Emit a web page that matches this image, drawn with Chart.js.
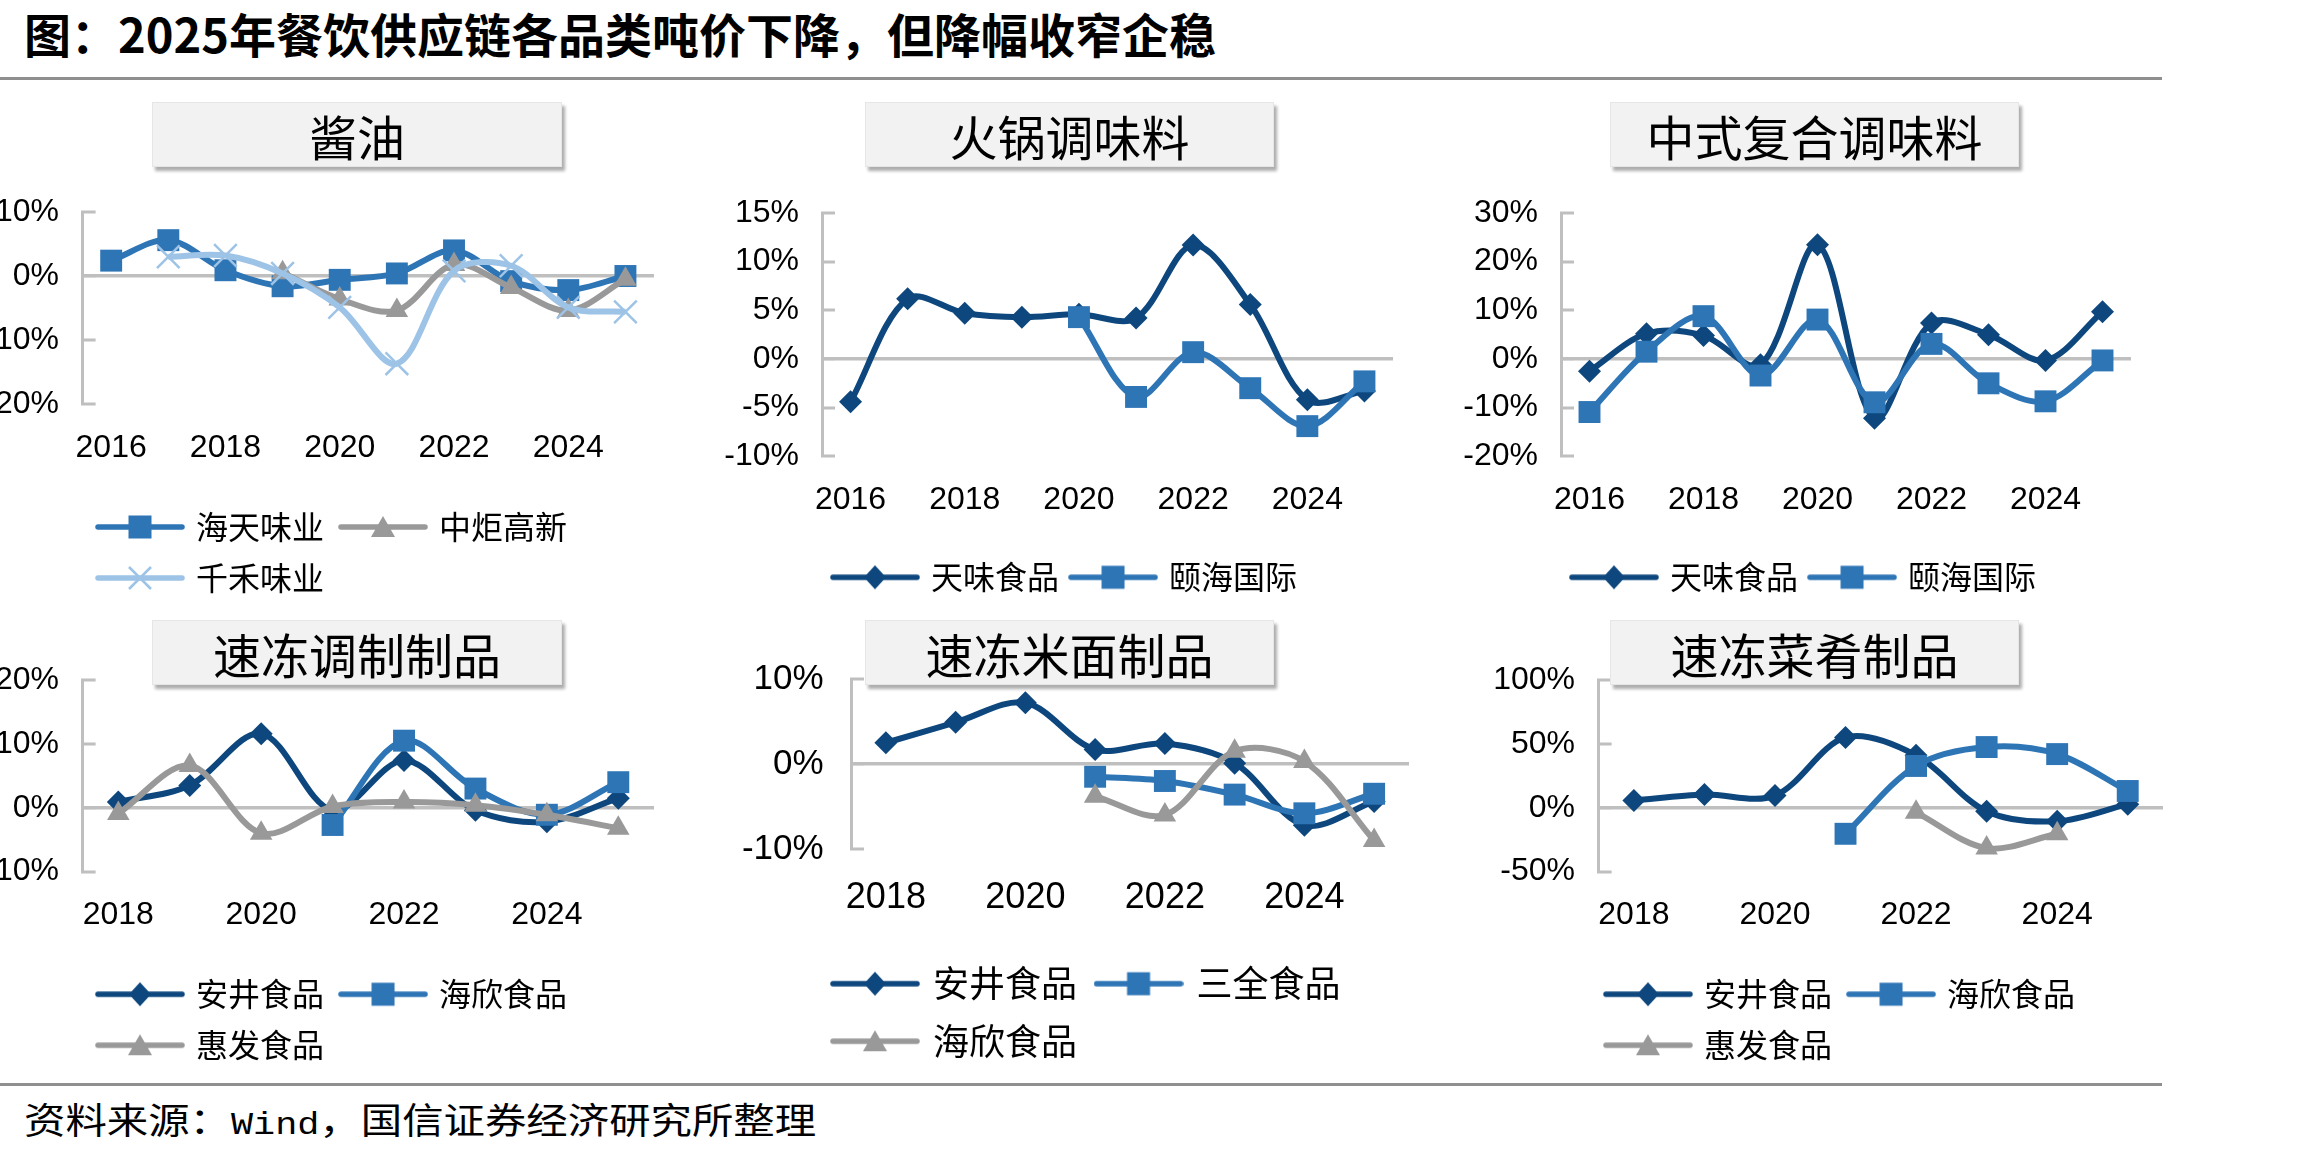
<!DOCTYPE html>
<html><head><meta charset="utf-8">
<script src="https://cdn.jsdelivr.net/npm/chart.js@4.4.1/dist/chart.umd.min.js"></script>
<style>
html,body{margin:0;padding:0;background:#fff;}
body{width:2322px;height:1160px;position:relative;overflow:hidden;font-family:"Noto Sans CJK SC",sans-serif;color:#000;}
.abs{position:absolute;white-space:nowrap;}
canvas{position:absolute;}
.tbox{position:absolute;background:#f2f2f2;box-shadow:3px 4px 3px rgba(0,0,0,0.32);display:flex;align-items:center;justify-content:center;font-size:48px;line-height:48px;color:#000;z-index:5;border:1px solid #e6e6e6;box-sizing:border-box;font-family:"Noto Sans CJK SC",sans-serif;}
</style></head><body>
<div class="abs" style="left:24px;top:6px;font-size:47px;font-weight:700;line-height:54px;">图：2025年餐饮供应链各品类吨价下降，但降幅收窄企稳</div>
<div class="abs" style="left:0;top:77px;width:2162px;height:3px;background:#8f8f8f;"></div>
<div class="abs" style="left:0;top:1083px;width:2162px;height:3px;background:#8f8f8f;"></div>
<div class="abs" style="left:24px;top:1099px;font-size:36px;line-height:38px;transform:scaleX(1.15);transform-origin:0 50%;">资料来源：<span style="font-family:'Liberation Mono','DejaVu Sans Mono',monospace;font-size:32px;">Wind</span>，国信证券经济研究所整理</div>
<script>
// ---------- data (percent) ----------
const years16 = ['2016','2017','2018','2019','2020','2021','2022','2023','2024','2025'];
const years18 = ['2018','2019','2020','2021','2022','2023','2024','2025'];

const panelTitles = ['酱油','火锅调味料','中式复合调味料','速冻调制制品','速冻米面制品','速冻菜肴制品'];

// 酱油
const soyHaitian = [2.4, 5.6, 0.9, -1.6, -0.6, 0.4, 4.0, -0.8, -2.2, 0.0];
const soyZhongju = [null, null, null, 0.5, -3.6, -5.4, 1.8, -1.8, -5.4, -0.5];
const soyQianhe  = [null, 3.0, 3.2, 0.4, -4.9, -13.7, 0.8, 1.6, -4.9, -5.6];
// 火锅调味料
const hotTianwei = [-4.4, 6.2, 4.7, 4.3, 4.6, 4.2, 11.7, 5.6, -4.2, -3.3];
const hotYihai   = [null, null, null, null, 4.3, -3.9, 0.7, -3.0, -6.9, -2.3];
// 中式复合调味料
const cmpTianwei = [-2.5, 5.2, 4.8, -1.2, 23.5, -12.2, 7.4, 5.0, -0.3, 9.7];
const cmpYihai   = [-10.9, 1.5, 8.8, -3.4, 8.1, -8.9, 3.1, -5.0, -8.7, -0.3];
// 速冻调制制品
const prepAnjing = [0.9, 3.5, 11.6, -0.4, 7.4, -0.4, -2.2, 1.5];
const prepHaixin = [null, null, null, -2.7, 10.5, 3.0, -1.1, 4.0];
const prepHuifa  = [-0.9, 6.6, -4.0, 0.2, 0.9, 0.4, -1.1, -3.2];
// 速冻米面制品
const riceAnjing = [2.5, 4.9, 7.2, 1.7, 2.4, 0.1, -7.2, -4.4];
const riceSanquan= [null, null, null, -1.5, -2.0, -3.6, -5.8, -3.5];
const riceHaixin = [null, null, null, -3.8, -6.0, 1.5, 0.3, -9.0];
// 速冻菜肴制品
const dishAnjing = [5.6, 10.3, 9.5, 55.0, 41.0, -2.8, -10.6, 2.8];
const dishHaixin = [null, null, null, -20.4, 32.7, 47.5, 42.0, 13.1];
const dishHuifa  = [null, null, null, null, -3.6, -31.6, -20.4, null];

// ---------- styles ----------
const NAVY = '#0D477D', BLUE = '#2E75B6', GRAY = '#999999', LBLUE = '#9DC3E6';
const MK = {
  diamond:  {style:'rectRot',  r:11.5},
  square:   {style:'rect',     r:15.5},
  triangle: {style:'triangle', r:13},
  cross:    {style:'crossRot', r:16}
};

function legendImg(color, kind){
  const c = document.createElement('canvas'); c.width = 90; c.height = 32;
  const g = c.getContext('2d');
  g.strokeStyle = color; g.fillStyle = color; g.lineWidth = 5.5; g.lineCap = 'round';
  g.beginPath(); g.moveTo(3,16); g.lineTo(87,16); g.stroke();
  const cx = 45, cy = 16;
  if (kind === 'square') { g.fillRect(cx-11.5, cy-11.5, 23, 23); }
  else if (kind === 'diamond') { g.beginPath(); g.moveTo(cx,cy-12); g.lineTo(cx+11,cy); g.lineTo(cx,cy+12); g.lineTo(cx-11,cy); g.closePath(); g.fill(); }
  else if (kind === 'triangle') { g.beginPath(); g.moveTo(cx,cy-11); g.lineTo(cx+12,cy+10); g.lineTo(cx-12,cy+10); g.closePath(); g.fill(); }
  else { g.lineWidth = 2.5; g.lineCap='butt'; g.beginPath(); g.moveTo(cx-11,cy-11); g.lineTo(cx+11,cy+11); g.moveTo(cx+11,cy-11); g.lineTo(cx-11,cy+11); g.stroke(); }
  return c;
}

const panels = [
  {title:panelTitles[0], box:[152,102,410,65], area:[82.6,212,654,404], CL:-40, labels:years16,
   y:[-20,10,10], yFont:32, xFont:32, yLabRight:59, xLabY:448, lg:{start:98,row:527,pad:19,fs:32,w:650}, bottom:610,
   series:[{label:'海天味业',data:soyHaitian,color:BLUE,kind:'square'},
           {label:'中炬高新',data:soyZhongju,color:GRAY,kind:'triangle'},
           {label:'千禾味业',data:soyQianhe,color:LBLUE,kind:'cross'}]},
  {title:panelTitles[1], box:[865,102,409,65], area:[822,212.7,1393,456], CL:700, labels:years16,
   y:[-10,15,5], yFont:32, xFont:32, yLabRight:799, xLabY:500, lg:{start:833,row:577,pad:14,fs:32,w:700}, bottom:610,
   series:[{label:'天味食品',data:hotTianwei,color:NAVY,kind:'diamond'},
           {label:'颐海国际',data:hotYihai,color:BLUE,kind:'square'}]},
  {title:panelTitles[2], box:[1610,102,409,65], area:[1561,212.7,2131,456], CL:1440, labels:years16,
   y:[-20,30,10], yFont:32, xFont:32, yLabRight:1538, xLabY:500, lg:{start:1572,row:577,pad:14,fs:32,w:700}, bottom:610,
   series:[{label:'天味食品',data:cmpTianwei,color:NAVY,kind:'diamond'},
           {label:'颐海国际',data:cmpYihai,color:BLUE,kind:'square'}]},
  {title:panelTitles[3], box:[152,620,410,65], area:[82.6,680.4,654,872], CL:-40, labels:years18,
   y:[-10,20,10], yFont:32, xFont:32, yLabRight:59, xLabY:916, lg:{start:98,row:994.6,pad:19,fs:32,w:650}, bottom:1075,
   series:[{label:'安井食品',data:prepAnjing,color:NAVY,kind:'diamond'},
           {label:'海欣食品',data:prepHaixin,color:BLUE,kind:'square'},
           {label:'惠发食品',data:prepHuifa,color:GRAY,kind:'triangle'}]},
  {title:panelTitles[4], box:[865,620,409,65], area:[851,679.3,1409,849.3], CL:700, labels:years18,
   y:[-10,10,10], yFont:35, xFont:36, yLabRight:823.6, xLabY:898, lg:{start:833,row:984,pad:21.5,fs:36,w:650}, bottom:1075,
   series:[{label:'安井食品',data:riceAnjing,color:NAVY,kind:'diamond'},
           {label:'三全食品',data:riceSanquan,color:BLUE,kind:'square'},
           {label:'海欣食品',data:riceHaixin,color:GRAY,kind:'triangle'}]},
  {title:panelTitles[5], box:[1610,620,409,65], area:[1598.6,680.4,2163,872], CL:1440, labels:years18,
   y:[-50,100,50], yFont:32, xFont:32, yLabRight:1575, xLabY:916, lg:{start:1606,row:994.6,pad:19,fs:32,w:650}, bottom:1075,
   series:[{label:'安井食品',data:dishAnjing,color:NAVY,kind:'diamond'},
           {label:'海欣食品',data:dishHaixin,color:BLUE,kind:'square'},
           {label:'惠发食品',data:dishHuifa,color:GRAY,kind:'triangle'}]}
];

const legendPos = {
  id:'legendPos',
  afterLayout(chart, args, o){
    const lg = chart.legend; if (!lg) return;
    lg.left = o.left; lg.right = o.left + o.w; lg.width = o.w;
    lg.top = o.top; lg.bottom = o.top + 200; lg.height = 200;
  }
};

const LATIN = '"Liberation Sans", Arial, sans-serif';
const CJK = '"Noto Sans CJK SC", sans-serif';

panels.forEach(p => {
  // title box
  const tb = document.createElement('div');
  tb.className = 'tbox';
  tb.style.left = p.box[0]+'px'; tb.style.top = p.box[1]+'px';
  tb.style.width = p.box[2]+'px'; tb.style.height = p.box[3]+'px';
  tb.textContent = p.title;
  document.body.appendChild(tb);

  const [x0, yT, x1, yB] = p.area;
  const TOPPAD = 80;
  const CL = p.CL, CT = yT - TOPPAD;
  const CW = Math.round(x1 - CL + 30);
  const CH = Math.round(p.bottom - CT);
  const cv = document.createElement('canvas');
  cv.width = CW; cv.height = CH;
  cv.style.left = CL+'px'; cv.style.top = CT+'px';
  cv.style.width = CW+'px'; cv.style.height = CH+'px';
  document.body.appendChild(cv);

  const yW = x0 - CL;
  const xH = 80;
  const padTop = yT - CT;
  const padRight = CW - (x1 - CL);
  const padBottom = CH - 1 - xH - (yB - CT);
  const xPad = p.xLabY - yB - 0.6*p.xFont;
  const yPad = x0 + 13 - p.yLabRight;
  const imgs = p.series.map(s => legendImg(s.color, s.kind));
  const n = p.series.length;

  new Chart(cv, {
    type:'line',
    data:{
      labels:p.labels,
      datasets:p.series.map((s,i)=>({
        label:s.label, data:s.data,
        borderColor:s.color, backgroundColor:s.color,
        borderWidth:6, tension:0.33, fill:false,
        pointStyle:MK[s.kind].style, pointRadius:MK[s.kind].r, pointHoverRadius:MK[s.kind].r,
        pointBackgroundColor: s.kind==='cross' ? 'rgba(0,0,0,0)' : s.color,
        pointBorderColor:s.color, pointBorderWidth: s.kind==='cross' ? 2.5 : 0,
        order:n - i, clip:false, spanGaps:false
      }))
    },
    options:{
      responsive:false, animation:false, devicePixelRatio:1, events:[],
      layout:{padding:{top:padTop, left:0, right:padRight, bottom:padBottom}},
      scales:{
        x:{
          type:'category', offset:true,
          grid:{display:false, drawTicks:false}, border:{display:false},
          ticks:{autoSkip:false, maxRotation:0, minRotation:0, color:'#000', padding:xPad,
                 font:{family:LATIN, size:p.xFont},
                 callback:function(v,i){ return i%2===0 ? this.getLabelForValue(v) : ''; }},
          afterFit(s){ s.height = xH; }
        },
        y:{
          min:p.y[0], max:p.y[1],
          ticks:{stepSize:p.y[2], color:'#000', padding:yPad, font:{family:LATIN, size:p.yFont},
                 callback:v => v + '%'},
          grid:{display:true, drawOnChartArea:true, drawTicks:true, tickLength:-13,
                color:c => (c.tick && c.tick.value===0) ? '#BFBFBF' : 'rgba(0,0,0,0)',
                lineWidth:c => (c.tick && c.tick.value===0) ? 3.5 : 0,
                tickColor:'#BFBFBF', tickWidth:3},
          border:{display:true, color:'#BFBFBF', width:3},
          afterFit(s){ s.width = yW; }
        }
      },
      plugins:{
        tooltip:{enabled:false},
        legendPos:{left:(p.lg.start + 2 - p.lg.pad) - CL, top:(p.lg.row - p.lg.pad - p.lg.fs/2) - CT, w:p.lg.w},
        legend:{
          display:true, position:'bottom', align:'start', maxHeight:1,
          labels:{
            usePointStyle:true, pointStyleWidth:80, padding:p.lg.pad, color:'#000',
            font:{family:CJK, size:p.lg.fs},
            sort:(a,b)=>a.datasetIndex-b.datasetIndex,
            generateLabels(chart){
              const items = Chart.defaults.plugins.legend.labels.generateLabels(chart);
              items.forEach(it => { it.pointStyle = imgs[it.datasetIndex]; it.lineWidth = 0; });
              return items;
            }
          }
        }
      }
    },
    plugins:[legendPos]
  });
});
</script>
</body></html>
